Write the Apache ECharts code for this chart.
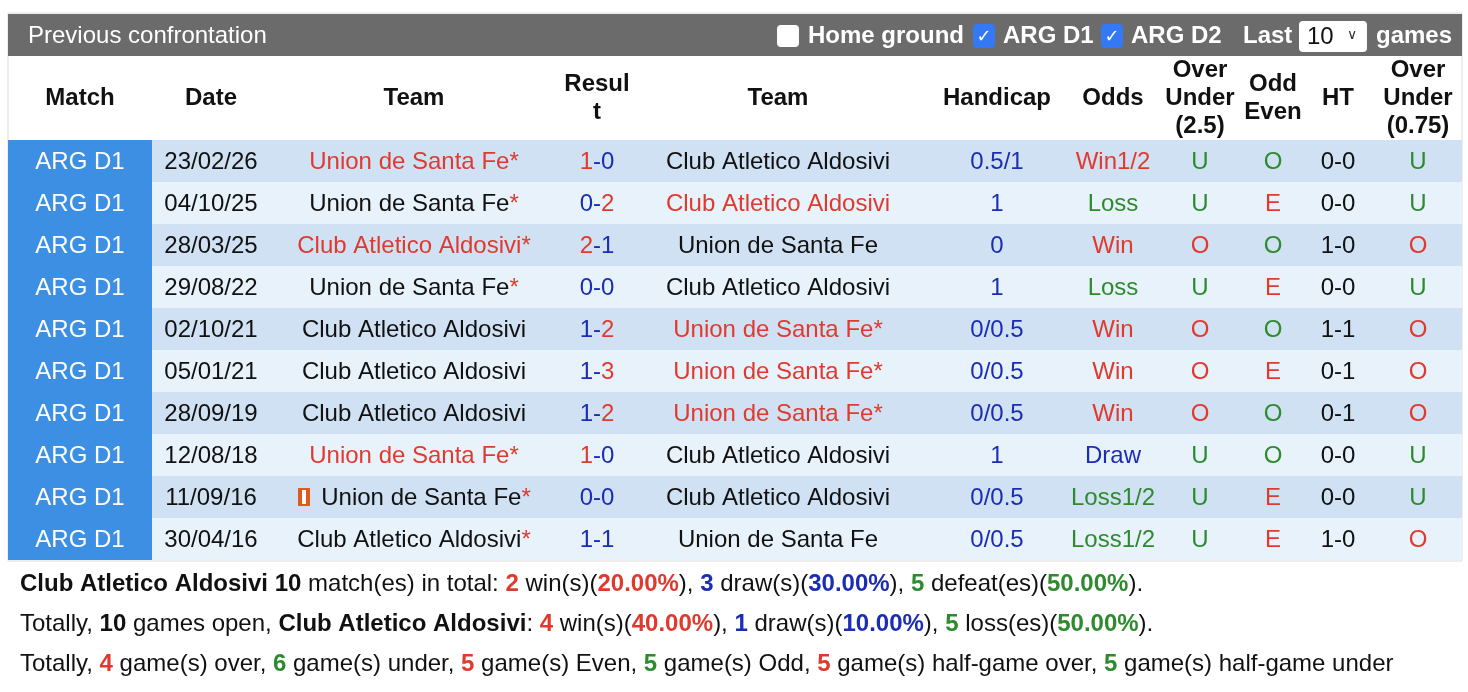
<!DOCTYPE html>
<html><head><meta charset="utf-8">
<script src="https://cdn.jsdelivr.net/npm/echarts@6/dist/echarts.min.js"></script>
<style>html,body{margin:0;padding:0;background:#fff}#c{width:1468px;height:692px}</style>
</head><body><div id="c"></div>
<script>
const matches = ['ARG D1','ARG D1','ARG D1','ARG D1','ARG D1','ARG D1','ARG D1','ARG D1','ARG D1','ARG D1'];
const dates = ['23/02/26','04/10/25','28/03/25','29/08/22','02/10/21','05/01/21','28/09/19','12/08/18','11/09/16','30/04/16'];
const homeTeams = ['Union de Santa Fe','Union de Santa Fe','Club Atletico Aldosivi','Union de Santa Fe','Club Atletico Aldosivi','Club Atletico Aldosivi','Club Atletico Aldosivi','Union de Santa Fe','Union de Santa Fe','Club Atletico Aldosivi'];
const awayTeams = ['Club Atletico Aldosivi','Club Atletico Aldosivi','Union de Santa Fe','Club Atletico Aldosivi','Union de Santa Fe','Union de Santa Fe','Union de Santa Fe','Club Atletico Aldosivi','Club Atletico Aldosivi','Union de Santa Fe'];
const starSide = ['h','h','h','h','a','a','a','h','h','h'];
const homeGoals = [1,0,2,0,1,1,1,1,0,1];
const awayGoals = [0,2,1,0,2,3,2,0,0,1];
const handicaps = ['0.5/1','1','0','1','0/0.5','0/0.5','0/0.5','1','0/0.5','0/0.5'];
const odds = ['Win1/2','Loss','Win','Loss','Win','Win','Win','Draw','Loss1/2','Loss1/2'];
const overUnder25 = ['U','U','O','U','O','O','O','U','U','U'];
const oddEven = ['O','E','O','E','O','E','O','O','E','E'];
const halfTime = ['0-0','0-0','1-0','0-0','1-1','0-1','0-1','0-0','0-0','1-0'];
const overUnder075 = ['U','U','O','U','O','O','O','U','U','O'];
const flagRows = [8];
const headers = ['Match','Date','Team','Resul\nt','Team','Handicap','Odds','Over\nUnder\n(2.5)','Odd\nEven','HT','Over\nUnder\n(0.75)'];

const RED='#e03a2f', BLUE='#1b2db5', GREEN='#2e8a2e', BLACK='#111';
const FF='Liberation Sans';
const FONT='"Liberation Sans", Arial, sans-serif';
const FS=24;
const cols=[80,211,414,597,778,997,1113,1200,1273,1338,1418];
const rich={r:{fill:RED,fontSize:FS,fontFamily:FF},b:{fill:BLUE,fontSize:FS,fontFamily:FF},
 g:{fill:GREEN,fontSize:FS,fontFamily:FF},k:{fill:BLACK,fontSize:FS,fontFamily:FF}};
const oddsCol = o => o.startsWith('Win')?'r':(o==='Draw'?'b':'g');

function teamText(name, star, won){
  const s = won ? '{r|'+name+'}' : '{k|'+name+'}';
  return star ? s+'{r|*}' : s;
}

const chart=echarts.init(document.getElementById('c'));
const headerGraphics=[
 {type:'rect',shape:{x:8,y:13,width:1454,height:548},style:{fill:'#fff',stroke:'#ddd',lineWidth:1},z:0},
 {type:'rect',shape:{x:8,y:14,width:1454,height:42},style:{fill:'#6b6b6b'},z:1},
 {type:'text',x:28,y:36,style:{text:'Previous confrontation',fill:'#fff',font:FS+'px '+FONT,verticalAlign:'middle'},z:2},
 {type:'rect',shape:{x:777,y:25,width:22,height:22,r:4},style:{fill:'#fff'},z:2},
 {type:'text',x:808,y:36,style:{text:'Home ground',fill:'#fff',font:'bold '+FS+'px '+FONT,verticalAlign:'middle'},z:2},
 {type:'rect',shape:{x:973,y:24,width:22,height:24,r:4},style:{fill:'#3478f6'},z:2},
 {type:'text',x:984,y:37,style:{text:'✓',fill:'#fff',font:'bold 18px "DejaVu Sans"',align:'center',verticalAlign:'middle'},z:3},
 {type:'text',x:1003,y:36,style:{text:'ARG D1',fill:'#fff',font:'bold '+FS+'px '+FONT,verticalAlign:'middle'},z:2},
 {type:'rect',shape:{x:1101,y:24,width:22,height:24,r:4},style:{fill:'#3478f6'},z:2},
 {type:'text',x:1112,y:37,style:{text:'✓',fill:'#fff',font:'bold 18px "DejaVu Sans"',align:'center',verticalAlign:'middle'},z:3},
 {type:'text',x:1131,y:36,style:{text:'ARG D2',fill:'#fff',font:'bold '+FS+'px '+FONT,verticalAlign:'middle'},z:2},
 {type:'text',x:1243,y:36,style:{text:'Last',fill:'#fff',font:'bold '+FS+'px '+FONT,verticalAlign:'middle'},z:2},
 {type:'rect',shape:{x:1299,y:21,width:68,height:31,r:4},style:{fill:'#fff'},z:2},
 {type:'text',x:1307,y:37,style:{text:'10',fill:'#111',font:FS+'px '+FONT,verticalAlign:'middle'},z:3},
 {type:'text',x:1352,y:35,style:{text:'∨',fill:'#333',font:'14px "DejaVu Sans"',align:'center',verticalAlign:'middle'},z:3},
 {type:'text',x:1376,y:36,style:{text:'games',fill:'#fff',font:'bold '+FS+'px '+FONT,verticalAlign:'middle'},z:2},
];
headers.forEach((h,i)=>headerGraphics.push({type:'text',x:cols[i],y:98,z:2,
 style:{text:h,fill:'#111',font:'bold '+FS+'px '+FONT,align:'center',verticalAlign:'middle',lineHeight:28}}));

const B=s=>'{kb|'+s+'}', R=s=>'{rb|'+s+'}', Bl=s=>'{bb|'+s+'}', G=s=>'{gb|'+s+'}', N=s=>'{n|'+s+'}';
const frich={n:{fontSize:FS,fontFamily:FF,fill:BLACK},kb:{fontSize:FS,fontFamily:FF,fill:BLACK,fontWeight:'bold'},
 rb:{fontSize:FS,fontFamily:FF,fill:RED,fontWeight:'bold'},bb:{fontSize:FS,fontFamily:FF,fill:BLUE,fontWeight:'bold'},
 gb:{fontSize:FS,fontFamily:FF,fill:GREEN,fontWeight:'bold'}};
const footer=[
 B('Club Atletico Aldosivi 10')+N(' match(es) in total: ')+R('2')+N(' win(s)(')+R('20.00%')+N('), ')+Bl('3')+N(' draw(s)(')+Bl('30.00%')+N('), ')+G('5')+N(' defeat(es)(')+G('50.00%')+N(').'),
 N('Totally, ')+B('10')+N(' games open, ')+B('Club Atletico Aldosivi')+N(': ')+R('4')+N(' win(s)(')+R('40.00%')+N('), ')+Bl('1')+N(' draw(s)(')+Bl('10.00%')+N('), ')+G('5')+N(' loss(es)(')+G('50.00%')+N(').'),
 N('Totally, ')+R('4')+N(' game(s) over, ')+G('6')+N(' game(s) under, ')+R('5')+N(' game(s) Even, ')+G('5')+N(' game(s) Odd, ')+R('5')+N(' game(s) half-game over, ')+G('5')+N(' game(s) half-game under')
];
footer.forEach((t,i)=>headerGraphics.push({type:'text',x:20,y:584+40*i,z:2,style:{text:t,rich:frich,verticalAlign:'middle'}}));

chart.setOption({
 animation:false,
 grid:{left:0,right:0,top:140,bottom:132},
 xAxis:{type:'value',min:0,max:1468,show:false},
 yAxis:{type:'category',data:dates,inverse:true,show:false},
 graphic:headerGraphics,
 series:[{type:'custom',data:dates.map((d,i)=>[0,i]),encode:{x:0,y:1},
  renderItem:function(params,api){
   const i=api.value(1);
   const cy=api.coord([0,i])[1];
   const h=api.size([0,1])[1];
   const y0=cy-h/2;
   const hw=homeGoals[i]>awayGoals[i], aw=awayGoals[i]>homeGoals[i];
   const t=(x,text)=>({type:'text',x:x,y:cy+1,style:{text:text,rich:rich,align:'center',verticalAlign:'middle',font:FS+'px '+FONT,fill:BLACK}});
   const children=[
    {type:'rect',shape:{x:8,y:y0,width:1454,height:h},style:{fill:i%2===0?'#cfe1f2':'#e8f2fb'}},
    {type:'rect',shape:{x:8,y:y0,width:144,height:h},style:{fill:'#3d8fe4'}},
    {type:'text',x:cols[0],y:cy+1,style:{text:matches[i],fill:'#fff',font:FS+'px '+FONT,align:'center',verticalAlign:'middle'}},
    t(cols[1],'{k|'+dates[i]+'}'),
    t(cols[2]+(flagRows.includes(i)?12:0),teamText(homeTeams[i],starSide[i]==='h',hw)),
    t(cols[3],(hw?'{r|'+homeGoals[i]+'}':'{b|'+homeGoals[i]+'}')+'{b|-}'+(aw?'{r|'+awayGoals[i]+'}':'{b|'+awayGoals[i]+'}')),
    t(cols[4],teamText(awayTeams[i],starSide[i]==='a',aw)),
    t(cols[5],'{b|'+handicaps[i]+'}'),
    t(cols[6],'{'+oddsCol(odds[i])+'|'+odds[i]+'}'),
    t(cols[7],'{'+(overUnder25[i]==='O'?'r':'g')+'|'+overUnder25[i]+'}'),
    t(cols[8],'{'+(oddEven[i]==='E'?'r':'g')+'|'+oddEven[i]+'}'),
    t(cols[9],'{k|'+halfTime[i]+'}'),
    t(cols[10],'{'+(overUnder075[i]==='O'?'r':'g')+'|'+overUnder075[i]+'}')
   ];
   if(flagRows.includes(i)){
    children.push({type:'rect',shape:{x:298,y:cy-9,width:12,height:18},style:{fill:'#e05a1e'}});
    children.push({type:'rect',shape:{x:302,y:cy-7,width:4,height:14},style:{fill:'#fff'}});
   }
   return {type:'group',children:children};
  }}]
});
</script></body></html>
